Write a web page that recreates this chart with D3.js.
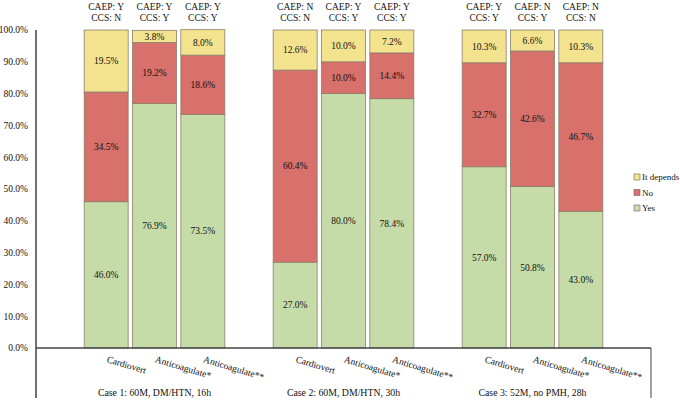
<!DOCTYPE html>
<html>
<head>
<meta charset="utf-8">
<script src="https://cdn.jsdelivr.net/npm/d3@7"></script>
<style>
  body { margin: 0; background: #fff; }
  text { font-family: "Liberation Serif", "Times New Roman", serif; fill: #111; }
</style>
</head>
<body>
<div class="graph-goes-here"></div>
<script>
// chart data
var cases = ["Case 1: 60M, DM/HTN, 16h", "Case 2: 60M, DM/HTN, 30h", "Case 3: 52M, no PMH, 28h"];
var actions = ["Cardiovert", "Anticoagulate*", "Anticoagulate**"];
var seriesNames = ["Yes", "No", "It depends"];
var yesValues = [46.0, 76.9, 73.5, 27.0, 80.0, 78.4, 57.0, 50.8, 43.0];
var noValues = [34.5, 19.2, 18.6, 60.4, 10.0, 14.4, 32.7, 42.6, 46.7];
var dependsValues = [19.5, 3.8, 8.0, 12.6, 10.0, 7.2, 10.3, 6.6, 10.3];
var caepLabels = ["Y", "Y", "Y", "N", "Y", "Y", "Y", "N", "N"];
var ccsLabels = ["N", "Y", "Y", "N", "Y", "Y", "Y", "Y", "N"];
var yTicks = [0, 10, 20, 30, 40, 50, 60, 70, 80, 90, 100];

var colors = { "Yes": "#c6dca8", "No": "#d8706b", "It depends": "#f3e28e" };

var width = 680, height = 400;
var plot = { left: 36, right: 651, top: 30, bottom: 348 };

var svg = d3.select(".graph-goes-here")
    .append("svg")
    .attr("width", width)
    .attr("height", height);

var y = d3.scaleLinear().domain([0, 100]).range([plot.bottom, plot.top]);

var xGroup = d3.scaleBand().domain(cases).range([plot.left, plot.right]).paddingInner(0).paddingOuter(0.127);
var xBar = d3.scaleBand().domain(actions).range([0, xGroup.bandwidth()]).paddingInner(0.09).paddingOuter(0.5);

// build rows, one per bar
var rows = [];
cases.forEach((c, gi) => {
    actions.forEach((a, ai) => {
        var i = gi * 3 + ai;
        rows.push({
            caseName: c, action: a,
            "Yes": yesValues[i], "No": noValues[i], "It depends": dependsValues[i],
            caep: caepLabels[i], ccs: ccsLabels[i]
        });
    });
});

var stacked = d3.stack().keys(seriesNames)(rows);

// y axis labels (no tick marks)
svg.append("g").selectAll("text")
    .data(yTicks)
    .join("text")
    .attr("x", plot.left - 8)
    .attr("y", d => y(d))
    .attr("dy", "0.35em")
    .attr("text-anchor", "end")
    .style("font-size", "9.5px")
    .text(d => d.toFixed(1) + "%");

// bars
var barX = d => xGroup(d.data.caseName) + xBar(d.data.action);

var layers = svg.append("g").selectAll("g")
    .data(stacked)
    .join("g")
    .attr("fill", d => colors[d.key]);

layers.selectAll("rect")
    .data(d => d)
    .join("rect")
    .attr("x", barX)
    .attr("y", d => y(d[1]))
    .attr("width", xBar.bandwidth())
    .attr("height", d => y(d[0]) - y(d[1]))
    .attr("stroke", "#8a7f6a")
    .attr("stroke-width", 0.8);

// value labels
layers.selectAll("text")
    .data(d => d)
    .join("text")
    .attr("x", d => barX(d) + xBar.bandwidth() / 2)
    .attr("y", d => (y(d[0]) + y(d[1])) / 2)
    .attr("dy", "0.35em")
    .attr("text-anchor", "middle")
    .style("font-size", "9.5px")
    .text(d => (d[1] - d[0]).toFixed(1) + "%");

// CAEP / CCS labels above bars
var heads = svg.append("g").selectAll("g")
    .data(rows)
    .join("g")
    .attr("transform", d => "translate(" + (xGroup(d.caseName) + xBar(d.action) + xBar.bandwidth() / 2) + ",0)");

heads.append("text")
    .attr("y", 10)
    .attr("text-anchor", "middle")
    .style("font-size", "9.5px")
    .text(d => "CAEP: " + d.caep);

heads.append("text")
    .attr("y", 21)
    .attr("text-anchor", "middle")
    .style("font-size", "9.5px")
    .text(d => "CCS: " + d.ccs);

// axes lines
svg.append("line")
    .attr("x1", plot.left).attr("x2", plot.left)
    .attr("y1", plot.top).attr("y2", 398)
    .attr("stroke", "#111").attr("stroke-width", 1.2);

svg.append("line")
    .attr("x1", plot.left).attr("x2", plot.right)
    .attr("y1", plot.bottom).attr("y2", plot.bottom)
    .attr("stroke", "#444").attr("stroke-width", 1.5);

svg.append("line")
    .attr("x1", plot.right).attr("x2", plot.right)
    .attr("y1", plot.bottom).attr("y2", 398)
    .attr("stroke", "#444").attr("stroke-width", 1);

// rotated action labels
svg.append("g").selectAll("text")
    .data(rows)
    .join("text")
    .attr("transform", d => "translate(" + (xGroup(d.caseName) + xBar(d.action) + xBar.bandwidth() / 2) + ",362) rotate(17)")
    .style("font-size", "9.5px")
    .text(d => d.action);

// case labels
svg.append("g").selectAll("text")
    .data(cases)
    .join("text")
    .attr("x", d => xGroup(d) + xGroup.bandwidth() / 2)
    .attr("y", 396)
    .attr("text-anchor", "middle")
    .style("font-size", "9.8px")
    .text(d => d);

// legend
var legendItems = seriesNames.slice().reverse();
var legend = svg.append("g").selectAll("g")
    .data(legendItems)
    .join("g")
    .attr("transform", (d, i) => "translate(634," + (177 + i * 15.5) + ")");

legend.append("rect")
    .attr("x", 0).attr("y", -3)
    .attr("width", 6).attr("height", 6)
    .attr("fill", d => colors[d])
    .attr("stroke", "#666").attr("stroke-width", 0.6);

legend.append("text")
    .attr("x", 8)
    .attr("dy", "0.35em")
    .style("font-size", "9px")
    .text(d => d);
</script>
</body>
</html>
